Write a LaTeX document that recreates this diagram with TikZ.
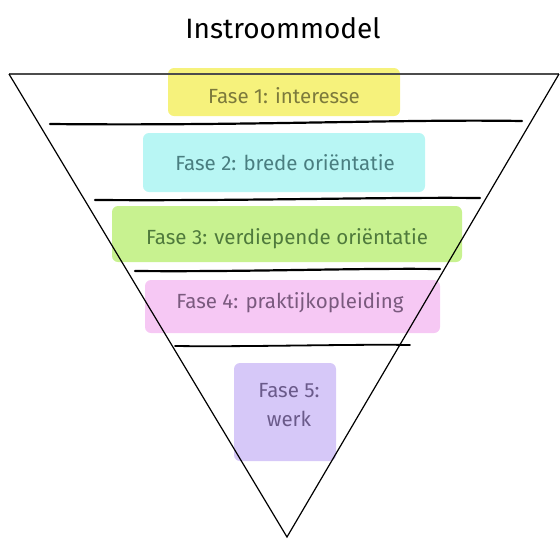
\documentclass[tikz,border=0pt]{standalone}
\usepackage{fontspec}
\setmainfont{Fira Sans}
\begin{document}
\begin{tikzpicture}[x=1pt,y=-1pt,
  hl/.style={rounded corners=6pt},
  lbl/.style={inner sep=0pt, font=\fontsize{20.5}{29}\selectfont, align=center},
  rule/.style={line width=2.2pt, line cap=round},
  edge/.style={line width=1.2pt}]
\definecolor{yelF}{HTML}{F6F27C}\definecolor{yelT}{HTML}{7C7A3C}
\definecolor{cyaF}{HTML}{B8F6F4}\definecolor{cyaT}{HTML}{4A7E80}
\definecolor{greF}{HTML}{C8F290}\definecolor{greT}{HTML}{4F7A3C}
\definecolor{pinF}{HTML}{F6C8F4}\definecolor{pinT}{HTML}{7A5A7E}
\definecolor{purF}{HTML}{D6C8F8}\definecolor{purT}{HTML}{6A5A8A}
\useasboundingbox (0,0) rectangle (560,539);
\node[font=\fontsize{28}{32}\selectfont] (title) at (283,28) {Instroommodel};
% highlights
\fill[hl, yelF] (168,68) rectangle (400,116);
\fill[hl, cyaF] (143,133) rectangle (425,192);
\fill[hl, greF] (112,206) rectangle (462,262);
\fill[hl, pinF] (145,280) rectangle (440,333);
\fill[hl, purF] (234,363) rectangle (336,461);
\node[lbl, text=yelT] (f1) at (284,96) {Fase 1: interesse};
\node[lbl, text=cyaT] (f2) at (285,163) {Fase 2: brede oriëntatie};
\node[lbl, text=greT] (f3) at (287,239) {Fase 3: verdiepende oriëntatie};
\node[lbl, text=pinT] (f4) at (290,303) {Fase 4: praktijkopleiding};
\node[lbl, text=purT] (f5) at (289,405) {Fase 5:\\werk};
% triangle
\coordinate (tl) at (9,74);
\coordinate (tr) at (559,74);
\coordinate (ap) at (287,537);
\draw[edge, black!70] (tl) -- (tr);
\draw[edge] (tl) -- (ap) -- (tr);
% dividers
\coordinate (a1) at (50,124); \coordinate (b1) at (522,121);
\coordinate (a2) at (95,200); \coordinate (b2) at (480,198);
\coordinate (a3) at (135,271); \coordinate (b3) at (440,269);
\coordinate (a4) at (175,346); \coordinate (b4) at (410,345);
\draw[rule] (a1) .. controls (250,126) and (400,119) .. (b1);
\draw[rule] (a2) .. controls (250,201) and (380,197) .. (b2);
\draw[rule] (a3) .. controls (250,272) and (350,268) .. (b3);
\draw[line width=1.8pt, line cap=round] (a4) .. controls (250,347) and (350,344) .. (b4);
\end{tikzpicture}
\end{document}
